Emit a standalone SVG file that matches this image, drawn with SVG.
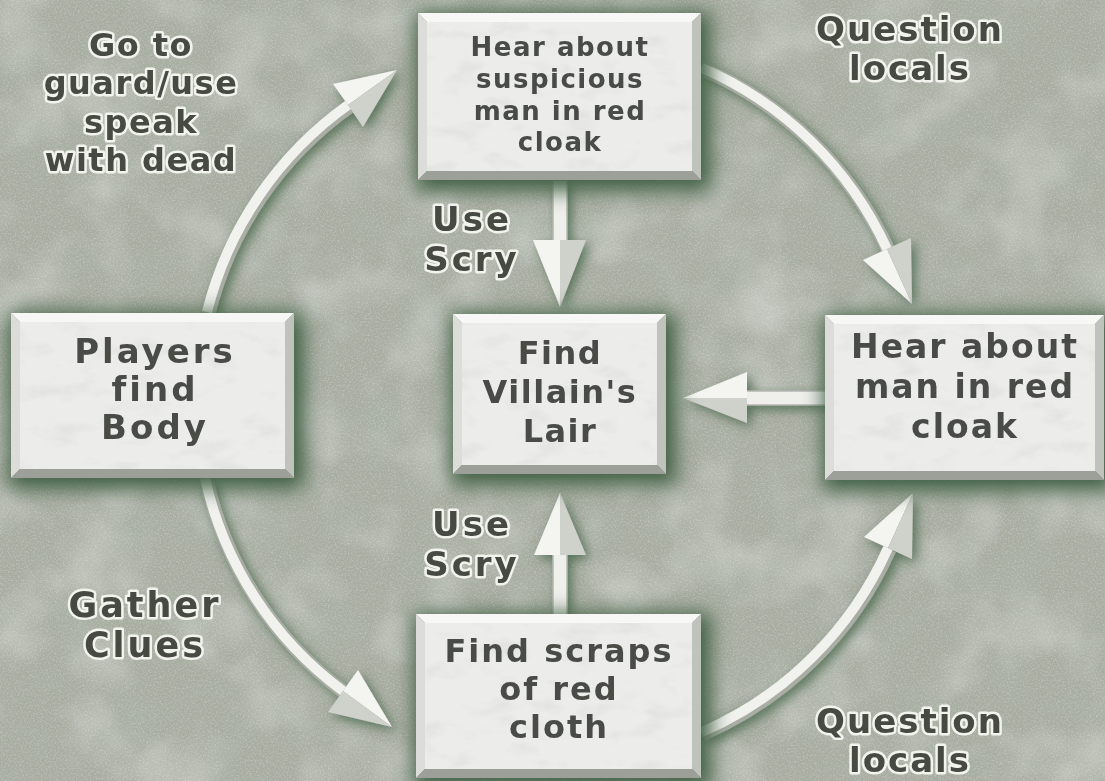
<svg xmlns="http://www.w3.org/2000/svg" width="1105" height="781" viewBox="0 0 1105 781">
<defs>
<filter id="grain" x="0" y="0" width="100%" height="100%">
<feTurbulence type="fractalNoise" baseFrequency="0.6" numOctaves="2" seed="7"/>
<feColorMatrix type="matrix" values="0 0 0 0 0.9  0 0 0 0 0.91  0 0 0 0 0.9  2.2 0 0 0 -0.95"/>
</filter>
<filter id="blotch" x="0" y="0" width="100%" height="100%">
<feTurbulence type="fractalNoise" baseFrequency="0.015" numOctaves="3" seed="11"/>
<feColorMatrix type="matrix" values="0 0 0 0 0.8  0 0 0 0 0.81  0 0 0 0 0.8  2.0 0 0 0 -0.9"/>
</filter>
<filter id="darkb" x="0" y="0" width="100%" height="100%">
<feTurbulence type="fractalNoise" baseFrequency="0.02" numOctaves="3" seed="23"/>
<feColorMatrix type="matrix" values="0 0 0 0 0.4  0 0 0 0 0.48  0 0 0 0 0.4  2.0 0 0 0 -0.95"/>
</filter>
<filter id="halo" x="-20%" y="-25%" width="140%" height="150%">
<feMorphology in="SourceAlpha" operator="dilate" radius="6"/>
<feGaussianBlur stdDeviation="10"/>
<feOffset dx="4" dy="5" result="b"/>
<feFlood flood-color="#3f5f43"/>
<feComposite in2="b" operator="in" result="s"/>
<feMerge><feMergeNode in="s"/><feMergeNode in="SourceGraphic"/></feMerge>
</filter>
<filter id="ashadow" x="-30%" y="-30%" width="160%" height="160%">
<feGaussianBlur in="SourceAlpha" stdDeviation="6"/>
<feOffset dx="4" dy="4" result="b"/>
<feFlood flood-color="#46664a" flood-opacity="0.85"/>
<feComposite in2="b" operator="in" result="s"/>
<feMerge><feMergeNode in="s"/><feMergeNode in="SourceGraphic"/></feMerge>
</filter>
<filter id="marble" x="0" y="0" width="100%" height="100%">
<feTurbulence type="fractalNoise" baseFrequency="0.025 0.05" numOctaves="4" seed="5"/>
<feColorMatrix type="matrix" values="0 0 0 0 0.6  0 0 0 0 0.62  0 0 0 0 0.6  1.8 0 0 0 -0.95"/>
<feComposite in2="SourceGraphic" operator="in"/>
</filter>
<style>
.face{fill:#ececea}
.bt{fill:#f7f7f5}
.bl{fill:#dcdcd8}
.br{fill:#c0c2bc}
.bb{fill:#9da099}
.txt{font-family:"DejaVu Sans","Liberation Sans",sans-serif;font-weight:bold;fill:#4a4c46;text-anchor:middle;letter-spacing:1.5px}
.lbl{font-family:"DejaVu Sans","Liberation Sans",sans-serif;font-weight:bold;fill:#474a42;stroke:#f3f3ee;stroke-width:5;stroke-linejoin:round;paint-order:stroke;text-anchor:middle;font-size:33px;letter-spacing:1.5px}
.shaftU{fill:none;stroke:#a9ada4;stroke-width:14;stroke-linecap:butt}
.shaft{fill:none;stroke:#f1f1ee;stroke-width:10;stroke-linecap:butt}
.hl{fill:#f4f4f1}
.hd{fill:#cfd1cb}
.sr{fill:#efefec;stroke:#b3b6ae;stroke-width:1.5}
</style>
</defs>

<rect width="1105" height="781" fill="#a8ada1"/>
<rect width="1105" height="781" filter="url(#blotch)" opacity="0.45"/>
<rect width="1105" height="781" filter="url(#darkb)" opacity="0.35"/>
<rect width="1105" height="781" filter="url(#grain)" opacity="0.3"/>

<g id="connectors" filter="url(#ashadow)">
  <g id="edge-left-top">
    <path class="shaftU" d="M207 312 A362 362 0 0 1 348 105" transform="translate(1.5,1.5)"/>
    <path class="shaft" d="M207 312 A362 362 0 0 1 348 105"/>
    <polygon class="hl" points="397,70 333,84 348,105"/>
    <polygon class="hd" points="397,70 348,105 363,127"/>
  </g>
  <g id="edge-top-right">
    <path class="shaftU" d="M701 67.5 A362 362 0 0 1 887 249" transform="translate(1.5,1.5)"/>
    <path class="shaft" d="M701 67.5 A362 362 0 0 1 887 249"/>
    <polygon class="hl" points="912,304 863,260 887,249"/>
    <polygon class="hd" points="912,304 887,249 911,238"/>
  </g>
  <g id="edge-left-bottom">
    <path class="shaftU" d="M205 478 A362 362 0 0 0 343 691" transform="translate(1.5,1.5)"/>
    <path class="shaft" d="M205 478 A362 362 0 0 0 343 691"/>
    <polygon class="hl" points="392,727 358,670 343,691"/>
    <polygon class="hd" points="392,727 343,691 328,712"/>
  </g>
  <g id="edge-bottom-right">
    <path class="shaftU" d="M701 732.5 A362 362 0 0 0 888 548" transform="translate(1.5,1.5)"/>
    <path class="shaft" d="M701 732.5 A362 362 0 0 0 888 548"/>
    <polygon class="hl" points="913,493 864,537 888,548"/>
    <polygon class="hd" points="913,493 888,548 912,559"/>
  </g>
  <g id="edge-top-center">
    <rect class="sr" x="553" y="180" width="14" height="62"/>
    <polygon class="hl" points="533,240 560,240 560,307"/>
    <polygon class="hd" points="560,240 586,240 560,307"/>
  </g>
  <g id="edge-bottom-center">
    <rect class="sr" x="553" y="553" width="14" height="62"/>
    <polygon class="hl" points="534,555 560,555 560,493"/>
    <polygon class="hd" points="560,555 586,555 560,493"/>
  </g>
  <g id="edge-right-center">
    <rect class="sr" x="745" y="391" width="81" height="14"/>
    <polygon class="hl" points="683,398 747,372 747,398"/>
    <polygon class="hd" points="683,398 747,398 747,423"/>
  </g>
</g>

<g id="node-top" filter="url(#halo)">
  <polygon class="bt" points="418,13 701,13 692,22 427,22"/>
  <polygon class="bl" points="418,13 427,22 427,171 418,180"/>
  <polygon class="br" points="701,13 701,180 692,171 692,22"/>
  <polygon class="bb" points="418,180 427,171 692,171 701,180"/>
  <rect class="face" x="427" y="22" width="265" height="149"/>
  <rect x="427" y="22" width="265" height="149" fill="#fff" filter="url(#marble)" opacity="0.5"/>
  <text class="txt" font-size="26"><tspan x="560" y="56">Hear about</tspan><tspan x="560" y="88">suspicious</tspan><tspan x="560" y="120">man in red</tspan><tspan x="560" y="151">cloak</tspan></text>
</g>

<g id="node-center" filter="url(#halo)">
  <polygon class="bt" points="453,314 666,314 657,323 462,323"/>
  <polygon class="bl" points="453,314 462,323 462,465 453,474"/>
  <polygon class="br" points="666,314 666,474 657,465 657,323"/>
  <polygon class="bb" points="453,474 462,465 657,465 666,474"/>
  <rect class="face" x="462" y="323" width="195" height="142"/>
  <rect x="462" y="323" width="195" height="142" fill="#fff" filter="url(#marble)" opacity="0.5"/>
  <text class="txt" font-size="32"><tspan x="560" y="364">Find</tspan><tspan x="560" y="403">Villain's</tspan><tspan x="560" y="442">Lair</tspan></text>
</g>

<g id="node-right" filter="url(#halo)">
  <polygon class="bt" points="825,315 1104,315 1095,324 834,324"/>
  <polygon class="bl" points="825,315 834,324 834,471 825,480"/>
  <polygon class="br" points="1104,315 1104,480 1095,471 1095,324"/>
  <polygon class="bb" points="825,480 834,471 1095,471 1104,480"/>
  <rect class="face" x="834" y="324" width="261" height="147"/>
  <rect x="834" y="324" width="261" height="147" fill="#fff" filter="url(#marble)" opacity="0.5"/>
  <text class="txt" font-size="33" style="letter-spacing:2px"><tspan x="965" y="358">Hear about</tspan><tspan x="965" y="398">man in red</tspan><tspan x="965" y="438">cloak</tspan></text>
</g>

<g id="node-left" filter="url(#halo)">
  <polygon class="bt" points="11,313 294,313 285,322 20,322"/>
  <polygon class="bl" points="11,313 20,322 20,469 11,478"/>
  <polygon class="br" points="294,313 294,478 285,469 285,322"/>
  <polygon class="bb" points="11,478 20,469 285,469 294,478"/>
  <rect class="face" x="20" y="322" width="265" height="147"/>
  <rect x="20" y="322" width="265" height="147" fill="#fff" filter="url(#marble)" opacity="0.5"/>
  <text class="txt" font-size="34" style="letter-spacing:3px"><tspan x="155" y="363">Players</tspan><tspan x="155" y="401">find</tspan><tspan x="155" y="439">Body</tspan></text>
</g>

<g id="node-bottom" filter="url(#halo)">
  <polygon class="bt" points="416,614 701,614 692,623 425,623"/>
  <polygon class="bl" points="416,614 425,623 425,769 416,778"/>
  <polygon class="br" points="701,614 701,778 692,769 692,623"/>
  <polygon class="bb" points="416,778 425,769 692,769 701,778"/>
  <rect class="face" x="425" y="623" width="267" height="146"/>
  <rect x="425" y="623" width="267" height="146" fill="#fff" filter="url(#marble)" opacity="0.5"/>
  <text class="txt" font-size="32" style="letter-spacing:2px"><tspan x="559" y="662">Find scraps</tspan><tspan x="559" y="700">of red</tspan><tspan x="559" y="738">cloth</tspan></text>
</g>

<g id="labels">
  <text class="lbl" style="font-size:32px"><tspan x="141" y="56">Go to</tspan><tspan x="141" y="94">guard/use</tspan><tspan x="141" y="133">speak</tspan><tspan x="141" y="171">with dead</tspan></text>
  <text class="lbl" style="font-size:34px;letter-spacing:2px"><tspan x="910" y="41">Question</tspan><tspan x="910" y="80">locals</tspan></text>
  <text class="lbl" style="font-size:34px;letter-spacing:3px"><tspan x="472" y="231">Use</tspan><tspan x="472" y="271">Scry</tspan></text>
  <text class="lbl" style="font-size:34px;letter-spacing:3px"><tspan x="472" y="536">Use</tspan><tspan x="472" y="576">Scry</tspan></text>
  <text class="lbl" style="font-size:35px;letter-spacing:3px"><tspan x="145" y="617">Gather</tspan><tspan x="145" y="657">Clues</tspan></text>
  <text class="lbl" style="font-size:34px;letter-spacing:2px"><tspan x="910" y="733">Question</tspan><tspan x="910" y="772">locals</tspan></text>
</g>
</svg>
